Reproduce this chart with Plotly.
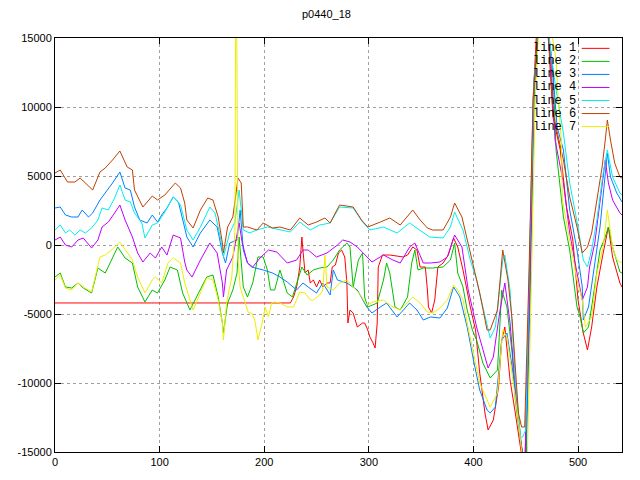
import plotly.graph_objects as go

title_text = "p0440_18"
names = ["line 1", "line 2", "line 3", "line 4", "line 5", "line 6", "line 7"]
colors = ["#ff0000", "#00c000", "#0080ff", "#c000ff", "#00eeee", "#c04000", "#eeee00"]

x_ticks = [0, 100, 200, 300, 400, 500]
y_ticks = [-15000, -10000, -5000, 0, 5000, 10000, 15000]

# line 1 (red)
x1 = [0, 220, 225, 228, 231, 234, 236, 237, 239, 242, 244, 247, 250, 253, 256, 260, 263, 265, 268, 271, 274,
      277, 279, 280, 282, 285, 289, 294, 296, 299, 301, 304, 306, 308, 309, 313, 320, 333, 337, 342, 346, 349,
      354, 356, 357, 360, 363, 366, 371, 376, 381, 385, 390, 397, 402, 406, 411, 414, 419, 424, 427, 430, 435,
      440, 445, 449, 453, 457, 460, 465, 472, 476, 483, 489, 495, 500, 505, 509, 513, 518, 524, 529, 533, 540, 542]
y1 = [-4200, -4200, -4200, -3768, -3043, -1594, 580, -362, -2029, -1812, -2753, -2536, -3043, -2536, -3043, -2753,
      -2753, -1594, -1449, -580, -362, -870, -2753, -5652, -4710, -4927, -5942, -5652, -5652, -6159, -6666, -7101,
      -7463, -5652, -1594, -725, -725, -870, -725, -145, -362, -1594, -1594, -3261, -4493, -4927, -3985, -1594,
      -1304, -725, 507, -145, -1812, -4493, -6159, -9275, -12173, -13405, -12680, -10289, -6884, -5942, -9782,
      -12173, -14500, -16700, -3985, 10507, 15000, 20000, 14855, 9275, 6884, 2753, 362, -3985, -6376, -7608,
      -5942, -3043, -580, 1304, -870, -2753, -3043]

# line 2 (green)
x2 = [0, 5, 10, 16, 22, 27, 35, 41, 48, 54, 60, 67, 74, 79, 86, 93, 98, 105, 110, 117, 122, 129, 139, 145, 151,
      156, 160, 161, 165, 170, 174, 176, 180, 184, 189, 194, 199, 203, 206, 210, 215, 222, 227, 231, 236, 241,
      247, 253, 260, 266, 272, 279, 282, 285, 290, 294, 296, 299, 308, 314, 317, 320, 325, 330, 337, 341, 344,
      347, 352, 361, 371, 378, 382, 385, 390, 394, 399, 403, 409, 416, 423, 427, 432, 437, 440, 445, 450, 454,
      458, 461, 466, 476, 479, 486, 492, 499, 502, 505, 510, 514, 521, 526, 529, 533, 540, 542]
y2 = [-2319, -2029, -3043, -3116, -2753, -3116, -3478, -1667, -2029, -1087, -145, -942, -1304, -3043, -4130,
      -3261, -3478, -2536, -1594, -1812, -3478, -4710, -3261, -2319, -2174, -3768, -5652, -6376, -4203, -3261,
      -2029, 580, -3043, -3768, -2753, -870, -870, -1812, -3261, -3261, -1812, -3478, -3768, -2753, -1594, -2174,
      -1812, -1667, -1594, -1087, -362, 145, -145, -3043, -1087, -580, -3768, -4493, -4203, -2536, -1304, -2029,
      -4493, -4710, -3768, -1304, -362, -1812, -1667, -1667, -1594, -1087, 145, -2029, -3043, -4710, -6159,
      -6884, -8550, -9637, -9058, -3261, -4493, -7826, -11231, -14130, -16300, -3985, 10507, 15000, 18500,
      12680, 6884, 2029, -362, -4493, -5217, -6376, -5942, -3985, -362, 580, 1304, -145, -1956, -2029]

# line 3 (blue)
x3 = [0, 5, 10, 16, 22, 26, 32, 36, 43, 48, 55, 62, 67, 72, 76, 81, 88, 93, 98, 102, 107, 113, 118, 124, 126,
      132, 139, 148, 155, 160, 163, 167, 174, 177, 180, 184, 188, 199, 208, 215, 222, 231, 237, 242, 250, 256,
      263, 266, 270, 279, 289, 298, 303, 311, 317, 327, 339, 346, 352, 359, 368, 375, 381, 387, 394, 400, 406,
      413, 416, 421, 427, 432, 437, 442, 446, 450, 454, 458, 461, 466, 475, 480, 486, 492, 499, 504, 505, 510,
      514, 521, 528, 531, 537, 542]
y3 = [2681, 2753, 2174, 2029, 2029, 2536, 2029, 2319, 3261, 3768, 4493, 5290, 4130, 3985, 2753, 1812, 1594, 2174,
      1667, 2174, 2681, 3478, 3116, 1232, 580, -145, 870, 1812, 1304, -580, -1304, 145, 362, 2536, -362, -1304,
      -1594, -1812, -2029, -2319, -2681, -3261, -2753, -3043, -3478, -2753, -3623, -1812, -2536, -2753, -3261,
      -4493, -4927, -4493, -4203, -5217, -4203, -4710, -5435, -5217, -5290, -4565, -3043, -3768, -5942, -8333,
      -10507, -11956, -12173, -11739, -6884, -6376, -8840, -11739, -14637, -16300, -3985, 11231, 15000, 19000,
      13405, 8550, 6884, 2536, -362, -3043, -5435, -4493, -2319, 1304, 6666, 4927, 3768, 3116]

# line 4 (purple)
x4 = [0, 5, 10, 16, 22, 27, 35, 41, 45, 51, 57, 62, 67, 74, 79, 84, 91, 96, 102, 107, 113, 120, 124, 126, 131,
      139, 148, 155, 160, 161, 164, 170, 176, 179, 184, 189, 196, 204, 212, 222, 231, 237, 242, 250, 260, 270,
      275, 282, 289, 294, 303, 314, 323, 330, 339, 344, 352, 359, 368, 375, 382, 389, 395, 403, 409, 414, 419,
      425, 430, 435, 440, 445, 449, 454, 458, 461, 466, 474, 478, 486, 492, 499, 504, 509, 511, 516, 521, 526,
      529, 533, 540, 542]
y4 = [362, 580, 0, -145, 362, 507, -217, 362, 1304, 1667, 2319, 2898, 1812, 580, -580, -1232, -580, -942, -145,
      -725, 725, 507, -1232, -1812, -2319, -1087, 145, -580, -2753, -3768, -1812, -870, 1594, 145, -1304, -1594,
      -942, -362, -507, -1304, -1087, -362, -362, -870, -580, 0, 362, 217, -145, -507, -1232, -725, -1087, -1304,
      -145, 145, -1304, -1304, -1232, -870, 725, -145, -3261, -5942, -7608, -8913, -8116, -4927, -2753, -5652,
      -10289, -14130, -16300, -2536, 11956, 15000, 19000, 13405, 7608, 4493, 870, -2029, -3985, -3043, -1594,
      145, 3261, 6159, 4493, 3261, 2319, 2174]

# line 5 (cyan)
x5 = [0, 5, 10, 14, 19, 24, 29, 35, 41, 45, 51, 57, 62, 67, 72, 76, 83, 86, 93, 98, 105, 113, 120, 124, 126,
      132, 139, 148, 153, 158, 161, 167, 172, 176, 180, 186, 193, 203, 215, 225, 234, 244, 253, 263, 272, 285,
      294, 301, 314, 327, 339, 349, 358, 371, 378, 382, 390, 397, 403, 409, 416, 421, 428, 430, 435, 440, 445,
      447, 450, 454, 458, 461, 466, 473, 479, 486, 492, 500, 505, 509, 513, 518, 524, 528, 533, 540, 542]
y5 = [1087, 1449, 870, 1087, 725, 1087, 870, 1232, 1812, 2681, 2536, 3406, 4348, 3261, 3116, 2319, 1594, 507,
      1449, 1594, 2391, 3478, 2898, 1812, 1087, 362, 1304, 2753, 2319, 580, -870, 870, 1667, 3985, 1087, 870,
      1087, 1304, 1087, 942, 1667, 1087, 1449, 1594, 2753, 2681, 1667, 1087, 1304, 870, 1594, 1087, 580, 507,
      1304, 2391, 1087, -1087, -2536, -4493, -6739, -5942, -1087, -725, -3261, -9782, -13912, -13912, -13405,
      362, 11956, 15000, 19500, 14500, 11231, 8116, 4493, 1304, -1087, -1594, -362, 1812, 5217, 6884, 4927,
      3768, 3623]

# line 6 (brown)
x6 = [0, 5, 12, 19, 24, 36, 43, 48, 55, 62, 69, 74, 76, 84, 93, 98, 105, 115, 120, 124, 126, 132, 139, 146,
      151, 156, 160, 161, 165, 170, 175, 178, 180, 184, 193, 199, 208, 215, 225, 234, 242, 250, 258, 263, 272,
      285, 293, 299, 311, 320, 330, 342, 349, 356, 361, 371, 378, 382, 389, 394, 400, 406, 413, 416, 423, 428,
      433, 437, 440, 443, 446, 449, 453, 457, 461, 466, 472, 476, 486, 492, 499, 504, 509, 513, 518, 523, 526,
      528, 531, 535, 540, 542]
y6 = [5217, 5435, 4565, 4565, 4855, 3985, 5290, 5579, 6159, 6811, 5652, 5435, 3985, 2753, 3551, 3261, 3623, 4493,
      4130, 3043, 1812, 1232, 2536, 3406, 3261, 2029, 145, -580, 1304, 2029, 4855, 4493, 1304, 1304, 1087, 1594,
      1232, 1304, 1087, 1956, 1449, 1667, 1956, 1594, 2898, 2753, 1812, 1304, 1667, 1956, 1449, 2536, 1812,
      1232, 1087, 1087, 2029, 3043, 2029, 362, -1667, -3478, -6159, -6159, -4710, -362, -2536, -5435, -8840,
      -12173, -13188, -13188, -2319, 10507, 15000, 20000, 14500, 9565, 6159, 3478, 1304, -580, -145, 870, 3261,
      5652, 7608, 9058, 7608, 5942, 4927, 4855]

# line 7 (yellow)
x7 = [0, 5, 10, 16, 22, 27, 35, 43, 48, 54, 62, 67, 74, 79, 86, 93, 96, 102, 108, 113, 120, 124, 126, 132, 139,
      145, 151, 156, 160, 161, 164, 169, 172, 173, 175, 177, 180, 185, 188, 191, 193, 194, 198, 201, 204, 207,
      210, 215, 222, 228, 234, 239, 244, 247, 253, 256, 258, 260, 266, 272, 279, 285, 292, 298, 304, 314, 323,
      330, 337, 342, 349, 356, 361, 368, 375, 381, 385, 390, 394, 400, 406, 413, 416, 423, 428, 432, 437, 442,
      446, 451, 455, 459, 462, 467, 479, 481, 484, 485, 492, 499, 504, 507, 513, 518, 524, 528, 533, 537, 542]
y7 = [-2536, -2174, -3116, -3261, -2753, -3043, -3406, -870, -725, -362, 217, -362, -1087, -2319, -3478, -2536,
      -2319, -2753, -1304, -942, -1304, -2753, -3261, -4710, -3478, -2391, -2536, -3985, -5652, -6884, -4203,
      -2319, 1087, 25000, -1000, -3043, -3768, -4927, -4927, -5435, -6376, -6884, -5652, -4493, -5217, -4203,
      -4130, -4203, -4493, -4493, -3406, -3478, -3985, -3985, -3623, -3261, -725, -3043, -3261, -2753, -2536,
      -3043, -3623, -4348, -4130, -3985, -4493, -4710, -4203, -3768, -4203, -4855, -4927, -4565, -3985, -2898,
      -3261, -3985, -5652, -7826, -10000, -11231, -11739, -10724, -6159, -6666, -9275, -12173, -14855, -17000,
      -3985, 10507, 15000, 19000, 13405, 10507, 7608, 3261, 362, -2536, -3985, -5942, -5217, -2029, -145, 2536,
      -145, -1087, -1304]

xs = [x1, x2, x3, x4, x5, x6, x7]
ys = [y1, y2, y3, y4, y5, y6, y7]

fig = go.Figure()
for name, color, xv, yv in zip(names, colors, xs, ys):
    fig.add_trace(go.Scatter(x=xv, y=yv, mode="lines", name=name,
                             line=dict(color=color, width=1), showlegend=False))

# gnuplot-style key: text then sample line, top right inside the plot
for i, (name, color) in enumerate(zip(names, colors)):
    ypos = 0.975 - i * 0.0315
    fig.add_annotation(xref="paper", yref="paper", x=0.922, y=ypos, text=name,
                       showarrow=False, xanchor="right", yanchor="middle",
                       font=dict(family="Liberation Mono", size=12, color="#000000"))
    fig.add_shape(type="line", xref="paper", yref="paper", x0=0.929, x1=0.978,
                  y0=ypos, y1=ypos, line=dict(color=color, width=1))

axis_common = dict(showline=True, linecolor="#000000", linewidth=1, mirror="allticks",
                   ticks="inside", ticklen=6, tickcolor="#000000",
                   showgrid=True, gridcolor="#a0a0a0", gridwidth=1, griddash="dot",
                   zeroline=False, tickfont=dict(family="Liberation Sans", size=11, color="#000000"))

fig.update_xaxes(range=[0, 542], tickvals=x_ticks, ticktext=[str(v) for v in x_ticks], **axis_common)
fig.update_yaxes(range=[-15000, 15000], tickvals=y_ticks, ticktext=[str(v) for v in y_ticks], **axis_common)

fig.update_layout(
    width=640, height=480,
    margin=dict(l=55, r=18, t=38, b=28),
    paper_bgcolor="#ffffff", plot_bgcolor="#ffffff",
    title=dict(text=title_text, x=0.51, xref="container", y=0.97, yref="container",
               xanchor="center", yanchor="middle",
               font=dict(family="Liberation Sans", size=11, color="#000000")),
)

fig.write_html("out.html", config={"displayModeBar": False},
               post_script="document.body.style.margin='0px';document.body.style.overflow='hidden';")
